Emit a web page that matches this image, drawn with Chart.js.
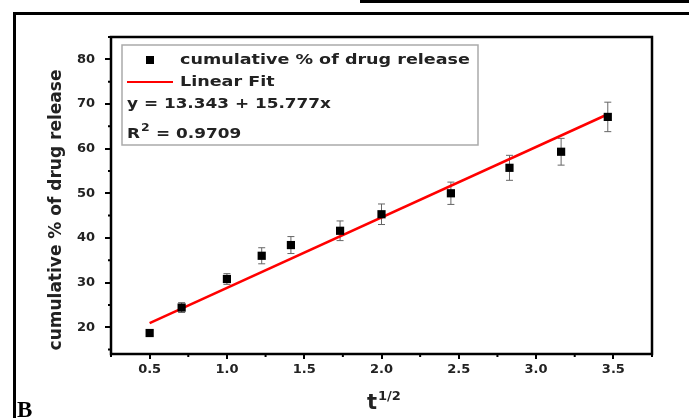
<!DOCTYPE html>
<html>
<head>
<meta charset="utf-8">
<script src="https://cdn.jsdelivr.net/npm/chart.js"></script>
<style>
  body { margin: 0; background: #fff; }
  #wrap { position: relative; width: 689px; height: 418px; }
</style>
</head>
<body>
<div id="wrap"><canvas id="release" width="689" height="418"></canvas></div>
<script>
// square root of time vs cumulative % of drug release
var sqrtTime = [0.5, 0.707, 1.0, 1.225, 1.414, 1.732, 2.0, 2.449, 2.828, 3.162, 3.464];
var released = [18.7, 24.4, 30.8, 36.0, 38.4, 41.6, 45.3, 50.0, 55.7, 59.3, 67.1];
var errors = [0.5, 1.1, 1.2, 1.8, 1.9, 2.2, 2.3, 2.5, 2.8, 3.0, 3.3];

// linear fit y = 13.343 + 15.777x, end points
var fitX = [0.5, 3.464];
var fitY = [20.9, 67.7];

var xTicks = [0.5, 1.0, 1.5, 2.0, 2.5, 3.0, 3.5];
var yTicks = [20, 30, 40, 50, 60, 70, 80];
var xMinor = [0.25, 0.75, 1.25, 1.75, 2.25, 2.75, 3.25, 3.75];
var yMinor = [15, 25, 35, 45, 55, 65, 75, 85];

function stretched(c, text, x, y, sx) {
  c.save();
  c.translate(x, y);
  c.scale(sx, 1);
  c.fillText(text, 0, 0);
  c.restore();
}

var extras = {
  id: 'extras',
  beforeDraw: function(chart) {
    var c = chart.ctx;
    c.save();
    c.fillStyle = '#fff';
    c.fillRect(0, 0, chart.width, chart.height);
    c.fillStyle = '#000';
    c.fillRect(360, 0, 329, 3);
    c.fillRect(13, 12, 676, 3);
    c.fillRect(13, 12, 3, 406);
    c.font = 'bold 23px "Liberation Serif"';
    c.textBaseline = 'alphabetic';
    c.fillText('B', 17, 417);
    c.restore();
  },
  beforeDatasetsDraw: function(chart) {
    var c = chart.ctx, sx = chart.scales.x, sy = chart.scales.y;
    c.save();
    c.strokeStyle = '#666';
    c.lineWidth = 1;
    for (var i = 0; i < sqrtTime.length; i++) {
      var px = sx.getPixelForValue(sqrtTime[i]);
      var top = sy.getPixelForValue(released[i] + errors[i]);
      var bot = sy.getPixelForValue(released[i] - errors[i]);
      c.beginPath();
      c.moveTo(px, top); c.lineTo(px, bot);
      c.moveTo(px - 3.5, top); c.lineTo(px + 3.5, top);
      c.moveTo(px - 3.5, bot); c.lineTo(px + 3.5, bot);
      c.stroke();
    }
    c.restore();
  },
  afterDraw: function(chart) {
    var c = chart.ctx, a = chart.chartArea;
    var sx = chart.scales.x, sy = chart.scales.y;
    c.save();
    // plot frame
    c.strokeStyle = '#000';
    c.lineWidth = 2.5;
    c.strokeRect(a.left, a.top, a.right - a.left, a.bottom - a.top);
    // minor ticks
    c.lineWidth = 2;
    c.beginPath();
    xMinor.forEach(function(v) {
      var p = sx.getPixelForValue(v);
      c.moveTo(p, a.bottom); c.lineTo(p, a.bottom + 3);
    });
    yMinor.forEach(function(v) {
      var p = sy.getPixelForValue(v);
      c.moveTo(a.left, p); c.lineTo(a.left - 3, p);
    });
    c.stroke();

    // axis titles
    c.fillStyle = '#222';
    c.font = 'bold 17px "DejaVu Sans"';
    c.textAlign = 'center';
    c.textBaseline = 'middle';
    c.save();
    c.translate(57, 210);
    c.rotate(-Math.PI / 2);
    c.fillText('cumulative % of drug release', 0, 0);
    c.restore();
    c.textAlign = 'left';
    c.textBaseline = 'alphabetic';
    c.font = 'bold 21px "DejaVu Sans"';
    c.fillText('t', 367, 409);
    c.font = 'bold 13px "DejaVu Sans"';
    c.fillText('1/2', 378, 400);

    // legend box
    c.fillStyle = '#fff';
    c.fillRect(122, 45, 356, 100);
    c.strokeStyle = '#aaa';
    c.lineWidth = 1.5;
    c.strokeRect(122, 45, 356, 100);
    c.fillStyle = '#000';
    c.fillRect(146, 56, 8, 8);
    c.strokeStyle = '#ff0000';
    c.lineWidth = 2;
    c.beginPath();
    c.moveTo(127, 82); c.lineTo(173, 82);
    c.stroke();
    c.fillStyle = '#222';
    c.textBaseline = 'middle';
    c.font = 'bold 13.5px "DejaVu Sans"';
    stretched(c, 'cumulative % of drug release', 180, 60, 1.3);
    stretched(c, 'Linear Fit', 180, 82.5, 1.3);
    stretched(c, 'y = 13.343 + 15.777x', 127, 104, 1.25);
    stretched(c, 'R', 127, 134.5, 1.25);
    stretched(c, '= 0.9709', 156, 134.5, 1.25);
    c.font = 'bold 10px "DejaVu Sans"';
    stretched(c, '2', 141, 128, 1.25);
    c.restore();
  }
};

var tickFont = { family: 'DejaVu Sans', weight: 'bold', size: 13 };

new Chart(document.getElementById('release'), {
  type: 'scatter',
  data: {
    datasets: [{
      label: 'cumulative % of drug release',
      data: sqrtTime.map(function(v, i) { return { x: v, y: released[i] }; }),
      pointStyle: 'rect',
      pointRadius: 5.8,
      backgroundColor: '#000',
      borderWidth: 0
    }, {
      label: 'Linear Fit',
      data: fitX.map(function(v, i) { return { x: v, y: fitY[i] }; }),
      showLine: true,
      borderColor: '#ff0000',
      borderWidth: 2.5,
      pointRadius: 0
    }]
  },
  options: {
    responsive: false,
    animation: false,
    layout: { padding: { left: 0, top: 37, right: 37, bottom: 0 } },
    plugins: { legend: { display: false }, tooltip: { enabled: false } },
    scales: {
      x: {
        type: 'linear',
        min: 0.25,
        max: 3.75,
        afterBuildTicks: function(s) { s.ticks = xTicks.map(function(v) { return { value: v }; }); },
        afterFit: function(s) { s.height = 64; },
        border: { display: false },
        grid: { drawOnChartArea: false, tickLength: 5, color: '#000', lineWidth: 2 },
        ticks: {
          callback: function(v) { return v.toFixed(1); },
          font: tickFont, color: '#222', padding: 3, maxRotation: 0, autoSkip: false
        }
      },
      y: {
        min: 14,
        max: 85,
        afterBuildTicks: function(s) { s.ticks = yTicks.map(function(v) { return { value: v }; }); },
        afterFit: function(s) { s.width = 111; },
        border: { display: false },
        grid: { drawOnChartArea: false, tickLength: 6, color: '#000', lineWidth: 2 },
        ticks: { font: tickFont, color: '#222', padding: 10, autoSkip: false }
      }
    }
  },
  plugins: [extras]
});
</script>
</body>
</html>
